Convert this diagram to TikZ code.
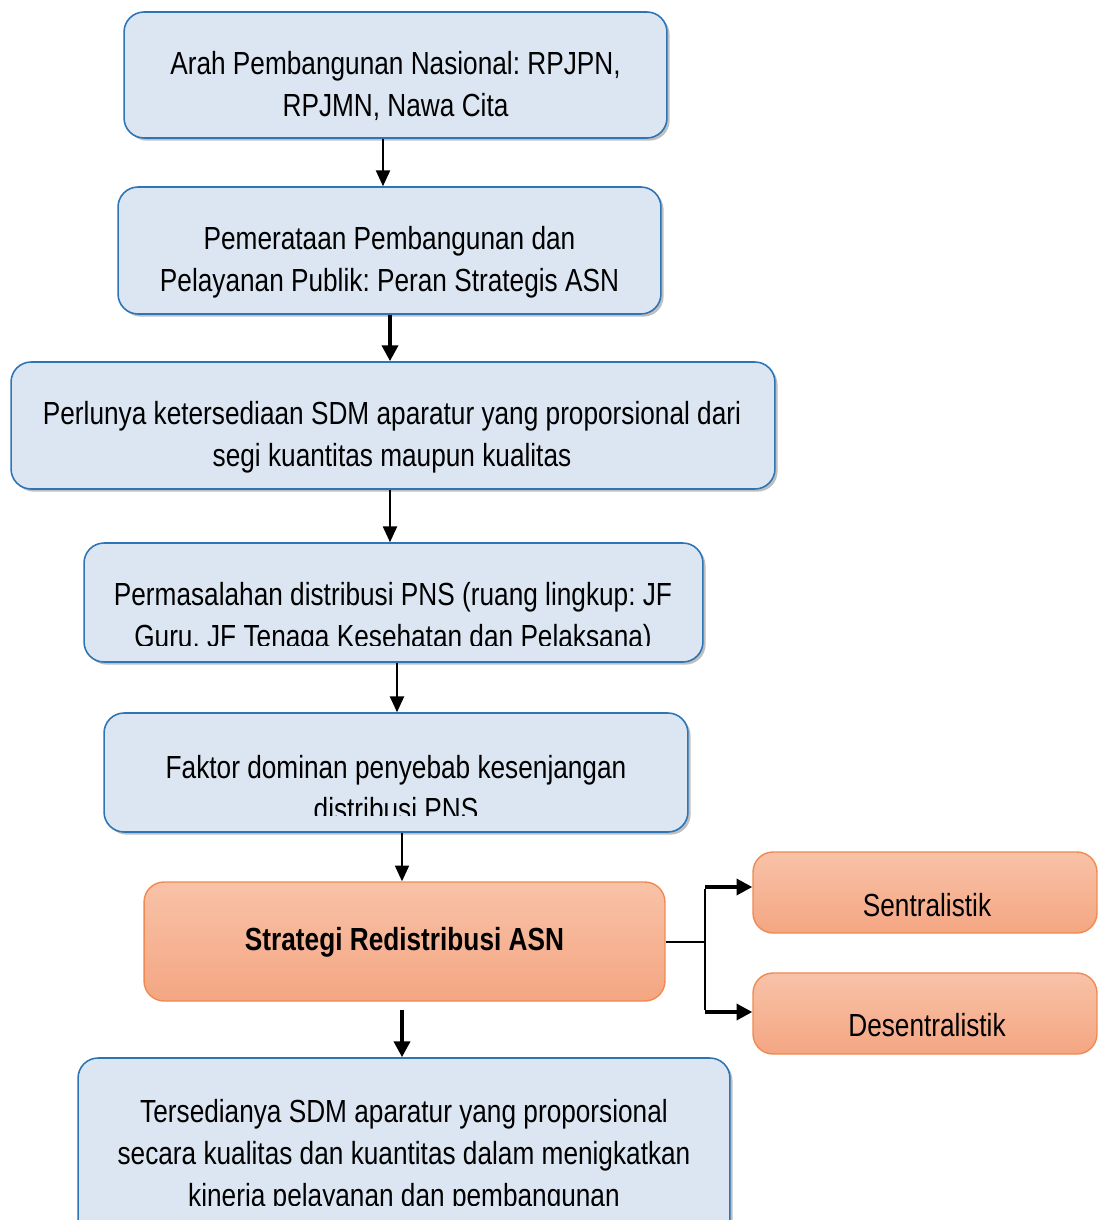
\documentclass[tikz,border=0pt]{standalone}
\usepackage{fontspec}
\setmainfont[FakeStretch=0.82]{Liberation Sans}
\usetikzlibrary{arrows.meta,shadows}
\definecolor{bluebd}{RGB}{46,117,182}
\definecolor{bluefill}{RGB}{220,230,242}
\definecolor{orbd}{RGB}{240,138,80}
\definecolor{ortop}{RGB}{248,194,168}
\definecolor{orbot}{RGB}{244,166,130}
\frenchspacing
\tikzset{
  bluebox/.style={draw=bluebd, fill=bluefill, line width=0.9pt, rounded corners=0.4cm,
    drop shadow={shadow xshift=1.5pt, shadow yshift=-1.5pt, opacity=0.25, fill=black}},
  orbox/.style={draw=orbd, line width=0.8pt, rounded corners=0.4cm, top color=ortop, bottom color=orbot},
  txt/.style={align=center, font=\fontsize{18.2}{23.8}\selectfont, inner sep=0pt},
  thinarr/.style={line width=1.1pt, -{Triangle[length=9pt,width=8pt]}},
  thickarr/.style={line width=2.4pt, -{Triangle[length=9pt,width=9pt]}},
  plain/.style={line width=1.1pt},
}
\begin{document}
\begin{tikzpicture}[x=0.02cm,y=-0.02cm]
\useasboundingbox (0,0) rectangle (1098,1220);
% boxes
\node[bluebox, minimum width=10.86cm, minimum height=2.52cm] (b1) at (395.5,75) {};
\node[bluebox, minimum width=10.86cm, minimum height=2.54cm] (b2) at (389.5,250.5) {};
\node[bluebox, minimum width=15.28cm, minimum height=2.54cm] (b3) at (393,425.5) {};
\node[bluebox, minimum width=12.38cm, minimum height=2.38cm] (b4) at (393.5,602.5) {};
\node[bluebox, minimum width=11.68cm, minimum height=2.38cm] (b5) at (396,772.5) {};
\node[orbox, minimum width=10.42cm, minimum height=2.38cm] (b6) at (404.5,941.5) {};
\node[orbox, minimum width=6.88cm, minimum height=1.62cm] (s1) at (925,892.5) {};
\node[orbox, minimum width=6.88cm, minimum height=1.62cm] (s2) at (925,1013.5) {};
\node[bluebox, minimum width=13.04cm, minimum height=3.84cm] (b8) at (404,1154) {};
% texts
\node[txt] (t1) at (395.5,86) {Arah Pembangunan Nasional: RPJPN,\\RPJMN, Nawa Cita};
\node[txt] (t2) at (389.5,262) {Pemerataan Pembangunan dan\\Pelayanan Publik: Peran Strategis ASN};
\node[txt] (t3) at (392,437) {Perlunya ketersediaan SDM aparatur yang proporsional dari\\segi kuantitas maupun kualitas};
\begin{scope}
\clip (84,540) rectangle (703,645);
\node[txt] (t4) at (393,618) {Permasalahan distribusi PNS (ruang lingkup: JF\\Guru, JF Tenaga Kesehatan dan Pelaksana)};
\end{scope}
\begin{scope}
\clip (104,710) rectangle (688,815);
\node[txt] (t5) at (396,788) {Faktor dominan penyebab kesenjangan\\distribusi PNS};
\end{scope}
\node[txt, font=\fontsize{18.2}{23.8}\selectfont\bfseries] (t6) at (404.5,942) {Strategi Redistribusi ASN};
\node[txt] (ts1) at (927,905) {Sentralistik};
\node[txt] (ts2) at (927,1025) {Desentralistik};
\begin{scope}
\clip (78,1055) rectangle (730,1205);
\node[txt] (t8) at (404,1156) {Tersedianya SDM aparatur yang proporsional\\secara kualitas dan kuantitas dalam menigkatkan\\kineria pelayanan dan pembangunan};
\end{scope}
% arrow x positions
\coordinate (xa) at (383,0);
\coordinate (xb) at (390,0);
\coordinate (xc) at (397,0);
\coordinate (xd) at (402,0);
\coordinate (st6) at (402,1010);
\coordinate (jn) at (705,942);
\coordinate (jt) at (705,887);
\coordinate (jb) at (705,1012);
\draw[thinarr] (b1.south -| xa) -- (b2.north -| xa);
\draw[thickarr] (b2.south -| xb) -- (b3.north -| xb);
\draw[thinarr] (b3.south -| xb) -- (b4.north -| xb);
\draw[thinarr] (b4.south -| xc) -- (b5.north -| xc);
\draw[thinarr] (b5.south -| xd) -- (b6.north -| xd);
\draw[thickarr] (st6) -- (b8.north -| xd);
\draw[plain] (b6.east |- jn) -- (jn);
\draw[plain] ([yshift=-1pt]jt) -- ([yshift=1pt]jb);
\draw[thickarr] (jt) -- (s1.west |- jt);
\draw[thickarr] (jb) -- (s2.west |- jb);
\end{tikzpicture}
\end{document}
